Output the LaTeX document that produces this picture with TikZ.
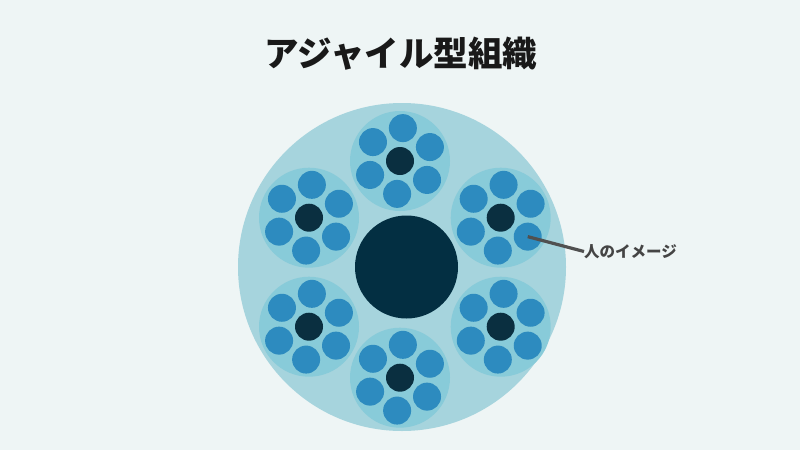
\documentclass[tikz,border=0pt]{standalone}
\usepackage{fontspec}
\usetikzlibrary{calc}
\newfontfamily\jp{Noto Sans CJK JP}
\definecolor{bgc}{HTML}{EEF5F5}
\definecolor{outerc}{HTML}{A6D4DD}
\definecolor{teamc}{HTML}{88CBD9}
\definecolor{memberc}{HTML}{2D8BBF}
\definecolor{leaderc}{HTML}{0A2F40}
\definecolor{corec}{HTML}{032F42}
\definecolor{linec}{HTML}{505050}
\definecolor{labelc}{HTML}{444444}
\tikzset{
  disc/.style={circle, inner sep=0pt, outer sep=0pt, draw=none},
  orgdisc/.style={disc, fill=outerc, minimum size=328pt},
  coredisc/.style={disc, fill=corec, minimum size=103pt},
  teamdisc/.style={disc, fill=teamc, minimum size=100pt},
  leaderdisc/.style={disc, fill=leaderc, minimum size=28pt},
  memberdisc/.style={disc, fill=memberc, minimum size=28pt},
  labelline/.style={draw=linec, line width=3.2pt},
  titletext/.style={font=\jp\bfseries\fontsize{34.5}{40}\selectfont, text=black!90},
  labeltext/.style={font=\jp\bfseries\fontsize{15.5}{18}\selectfont, text=labelc, inner sep=0pt, anchor=west}
}
\begin{document}
\begin{tikzpicture}[x=1pt,y=-1pt]
\fill[bgc] (0,0) rectangle (800,450);
\useasboundingbox (0,0) rectangle (800,450);
\node[titletext] (title) at (401,54) {アジャイル型組織};
\node[orgdisc] (org) at (402,267) {};
\node[coredisc] (core) at (406.5,267) {};
\foreach \nm/\cx/\cy in {t/400/161, ur/500.7/217.7, lr/500.7/326.7, b/400/377.7, ll/309/326.7, ul/309/217.7} {
  \node[teamdisc] (\nm) at (\cx,\cy) {};
  \node[leaderdisc] (\nm-c) at (\nm) {};
  \foreach \i/\a in {1/85,2/25,3/-35,4/-95,5/-155,6/145} {
    \node[memberdisc] (\nm-\i) at ($(\nm)+(\a:33pt)$) {};
  }
}
\node[labeltext] (lbl) at (584,251.5) {人のイメージ};
\draw[labelline] (ur-3.center) -- (lbl.west);
\end{tikzpicture}
\end{document}
